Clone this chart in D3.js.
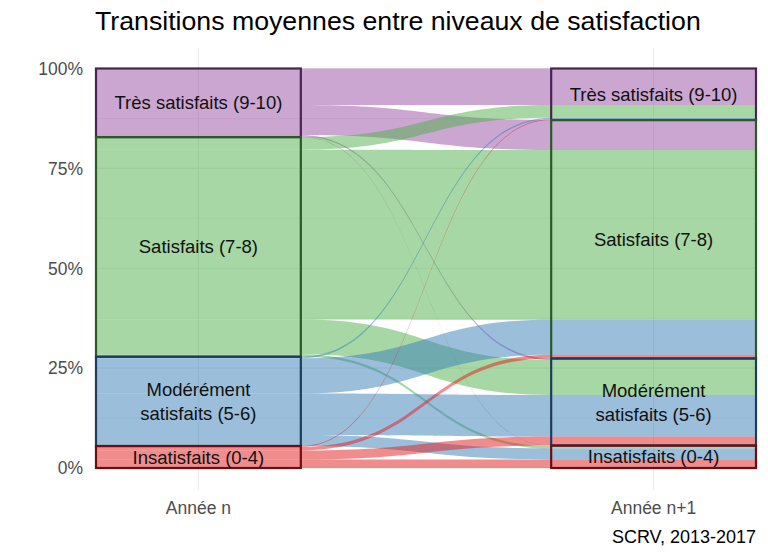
<!DOCTYPE html>
<html><head><meta charset="utf-8">
<script src="https://cdn.jsdelivr.net/npm/d3@7"></script>
<style>body{margin:0;background:#fff}svg{display:block;font-family:"Liberation Sans",Arial,sans-serif}</style>
</head><body>
<svg id="c" width="768" height="558"></svg>
<script>
// ---- data ----
const levels = ["Très satisfaits (9-10)", "Satisfaits (7-8)", "Modérément satisfaits (5-6)", "Insatisfaits (0-4)"];
const levelLines = [["Très satisfaits (9-10)"], ["Satisfaits (7-8)"], ["Modérément", "satisfaits (5-6)"], ["Insatisfaits (0-4)"]];
const axisLabels = ["Année n", "Année n+1"];
// mean transition shares (% of total), rows = level in year n, columns = level in year n+1
const fromTres   = [9.15, 7.50, 0.40, 0.12];
const fromSatis  = [3.15, 42.48, 8.75, 0.60];
const fromModere = [0.40, 8.80, 10.40, 2.75];
const fromInsat  = [0.20, 0.90, 2.25, 2.15];
const yTicks = [0, 25, 50, 75, 100];
const yMinor = [12.5, 37.5, 62.5, 87.5];
const title = "Transitions moyennes entre niveaux de satisfaction";
const caption = "SCRV, 2013-2017";

const matrix = [fromTres, fromSatis, fromModere, fromInsat];
const fillColors = ["#984EA3", "#4DAF4A", "#377EB8", "#E41A1C"];
const lineColors = ["#4a2352", "#2a5a28", "#1e3c5c", "#6e0d0f"];

const svg = d3.select("#c");
const y = d3.scaleLinear().domain([0, 100]).range([468, 68.5]);
const x = d3.scaleLinear().domain([0.775, 2.225]).range([96, 756]);
const halfW = 0.225;
const axisPos = [1, 2];

// gridlines
const g = svg.append("g");
g.selectAll(".gmin").data(yMinor).join("line")
  .attr("x1", x.range()[0]).attr("x2", x.range()[1])
  .attr("y1", d => y(d)).attr("y2", d => y(d))
  .attr("stroke", "#ebebeb").attr("stroke-width", 0.6);
g.selectAll(".gmaj").data(yTicks).join("line")
  .attr("x1", x.range()[0]).attr("x2", x.range()[1])
  .attr("y1", d => y(d)).attr("y2", d => y(d))
  .attr("stroke", "#ebebeb").attr("stroke-width", 1.1);
g.selectAll(".gv").data(axisPos).join("line")
  .attr("x1", d => x(d)).attr("x2", d => x(d))
  .attr("y1", 48).attr("y2", 490)
  .attr("stroke", "#ebebeb").attr("stroke-width", 1.1);

// totals
const leftTot = matrix.map(r => d3.sum(r));
const rightTot = levels.map((_, j) => d3.sum(matrix, r => r[j]));
const stratTop = tots => tots.map((_, i) => 100 - d3.sum(tots.slice(0, i)));
const leftTop = stratTop(leftTot), rightTop = stratTop(rightTot);

// lode positions
const lodes = [];
matrix.forEach((row, i) => row.forEach((v, j) => {
  const lt = leftTop[i] - d3.sum(row.slice(0, j));
  const rt = rightTop[j] - d3.sum(matrix.slice(0, i), r => r[j]);
  lodes.push({i, j, v, lt, lb: lt - v, rt, rb: rt - v});
}));

// flows
const x1 = x(1 + halfW), x2 = x(2 - halfW), xm = (x1 + x2) / 2;
const flowPath = d => {
  const a = y(d.lt), b = y(d.lb), c = y(d.rt), e = y(d.rb);
  return `M${x1},${a}C${xm},${a} ${xm},${c} ${x2},${c}L${x2},${e}C${xm},${e} ${xm},${b} ${x1},${b}Z`;
};
svg.append("g").selectAll("path").data(lodes).join("path")
  .attr("d", flowPath)
  .attr("fill", d => fillColors[d.i]).attr("fill-opacity", 0.5);

// lodes at both axes
const lg = svg.append("g");
lg.selectAll(".ll").data(lodes).join("rect")
  .attr("x", x(1 - halfW)).attr("width", x(1 + halfW) - x(1 - halfW))
  .attr("y", d => y(d.lt)).attr("height", d => y(d.lb) - y(d.lt))
  .attr("fill", d => fillColors[d.i]).attr("fill-opacity", 0.5);
lg.selectAll(".rl").data(lodes).join("rect")
  .attr("x", x(2 - halfW)).attr("width", x(2 + halfW) - x(2 - halfW))
  .attr("y", d => y(d.rt)).attr("height", d => y(d.rb) - y(d.rt))
  .attr("fill", d => fillColors[d.i]).attr("fill-opacity", 0.5);

// strata outlines
const strata = [];
levels.forEach((l, k) => {
  strata.push({k, ax: 1, top: leftTop[k], bot: leftTop[k] - leftTot[k]});
  strata.push({k, ax: 2, top: rightTop[k], bot: rightTop[k] - rightTot[k]});
});
svg.append("g").selectAll("rect").data(strata).join("rect")
  .attr("x", d => x(d.ax - halfW)).attr("width", x(1 + halfW) - x(1 - halfW))
  .attr("y", d => y(d.top)).attr("height", d => y(d.bot) - y(d.top))
  .attr("fill", "none").attr("stroke", d => lineColors[d.k]).attr("stroke-width", 2.2);

// stratum labels
const lab = svg.append("g").attr("font-size", 18.5).attr("fill", "#111").attr("text-anchor", "middle");
strata.forEach(s => {
  const lines = levelLines[s.k];
  const cy = y((s.top + s.bot) / 2);
  const t = lab.append("text").attr("x", x(s.ax));
  lines.forEach((ln, n) => {
    t.append("tspan").attr("x", x(s.ax))
      .attr("y", cy + (n - (lines.length - 1) / 2) * 24 + 6.5).text(ln);
  });
});

// y axis labels
svg.append("g").selectAll("text").data(yTicks).join("text")
  .attr("x", 83).attr("y", d => y(d) + 6.3).attr("text-anchor", "end")
  .attr("font-size", 17.5).attr("fill", "#4d4d4d").text(d => d + "%");
// x axis labels
svg.append("g").selectAll("text").data(axisLabels).join("text")
  .attr("x", (d, i) => x(axisPos[i])).attr("y", 514).attr("text-anchor", "middle")
  .attr("font-size", 17.5).attr("fill", "#4d4d4d").text(d => d);

svg.append("text").attr("x", 95).attr("y", 30).attr("font-size", 26.7).attr("fill", "#000").text(title);
svg.append("text").attr("x", 756).attr("y", 543).attr("text-anchor", "end")
  .attr("font-size", 18).attr("fill", "#000").text(caption);
</script>
</body></html>
